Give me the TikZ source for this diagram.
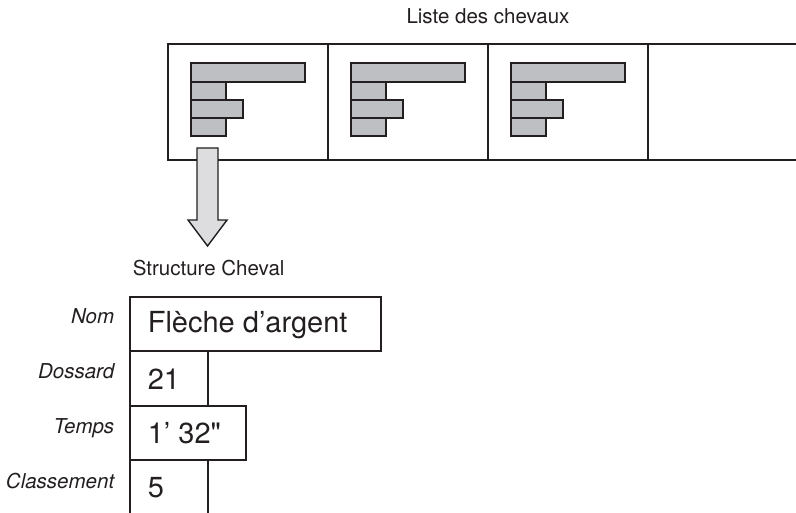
\documentclass[tikz,border=0pt]{standalone}
\usepackage{fontspec}
\setmainfont{TeX Gyre Heros}[Ligatures=TeXOff]
\definecolor{lineColour}{RGB}{35,31,32}
\definecolor{barColour}{RGB}{190,191,195}
\definecolor{arrowColour}{RGB}{221,221,223}
\usetikzlibrary{
    positioning
}
\tikzset{
    listDiagram/.style={
        cell/.style={
            rectangle,
            draw,
            minimum width=160pt,
            minimum height=116pt,
            inner sep=0pt,
            outer sep=0pt,
            anchor=north west,
        },
        bar/.style={
            draw,
            fill=barColour,
        },
        field/.style={
            rectangle,
            draw,
            inner sep=0pt,
            outer sep=0pt,
            anchor=north west,
        },
        fieldname/.style={
            font=\itshape\fontsize{20.5}{24}\selectfont,
            inner sep=0pt,
            anchor=base east,
        },
        value/.style={
            font=\fontsize{29}{34}\selectfont,
            inner sep=0pt,
            anchor=base west,
        },
        caption/.style={
            font=\fontsize{20.5}{24}\selectfont,
            inner sep=0pt,
        },
    }
}

\begin{document}
\begin{tikzpicture}[x=1pt, y=-1pt, listDiagram, line width=1.6pt, color=lineColour]
    \useasboundingbox (0,0) rectangle (796,513);

    % la liste
    \node[caption, anchor=base] (liste_titre) at (488,24) {Liste des chevaux};
    \node[cell] (cell1) at (168,44) {};
    \node[cell, right=0pt of cell1] (cell2) {};
    \node[cell, right=0pt of cell2] (cell3) {};
    \node[cell, draw=none, minimum width=148pt, right=0pt of cell3] (cell4) {};
    \draw (cell4.north west) -- (cell4.north east);
    \draw (cell4.south west) -- (cell4.south east);

    \foreach \c in {cell1,cell2,cell3} {
        \begin{scope}[shift={(\c.north west)}]
            \draw[bar] (23,38) rectangle (58,56);
            \draw[bar] (23,56) rectangle (75,74);
            \draw[bar] (23,74) rectangle (58,92);
            \draw[bar] (23,19) rectangle (137,38);
        \end{scope}
    }

    % la fleche
    \begin{scope}[shift={(cell1.south west)}]
        \draw[fill=arrowColour, line width=1.4pt]
            (29,-12) -- (50,-12) -- (50,60) -- (59,60) -- (39.5,86)
            -- (20,60) -- (29,60) -- cycle;
    \end{scope}

    % la structure
    \node[caption, anchor=base west] (struct_titre) at (132,276) {Structure Cheval};
    \node[field, minimum width=251pt, minimum height=54pt] (nom) at (130,297) {};
    \node[field, minimum width=78pt, minimum height=55pt] (dossard) at (nom.south west) {};
    \node[field, minimum width=116pt, minimum height=54pt] (temps) at (dossard.south west) {};
    \node[field, draw=none, minimum width=78pt, minimum height=54pt] (classement) at (temps.south west) {};
    \draw (classement.south west) -- (classement.north west);
    \draw (classement.north east) -- (classement.south east);

    \node[fieldname] (nom_lbl) at ([xshift=-15pt]nom.west) {Nom};
    \node[fieldname] (dossard_lbl) at ([xshift=-15pt]dossard.west) {Dossard};
    \node[fieldname] (temps_lbl) at ([xshift=-15pt]temps.west) {Temps};
    \node[fieldname] (classement_lbl) at ([xshift=-15pt, yshift=-1pt]classement.west) {Classement};

    \node[value] (nom_val) at ([xshift=17pt, yshift=-9pt]nom.west) {Flèche d’argent};
    \node[value] (dossard_val) at ([xshift=17pt, yshift=-11pt]dossard.west) {21};
    \node[value] (temps_val) at ([xshift=17pt, yshift=-10pt]temps.west) {1’ 32"};
    \node[value] (classement_val) at ([xshift=17pt, yshift=-10pt]classement.west) {5};
\end{tikzpicture}
\end{document}
